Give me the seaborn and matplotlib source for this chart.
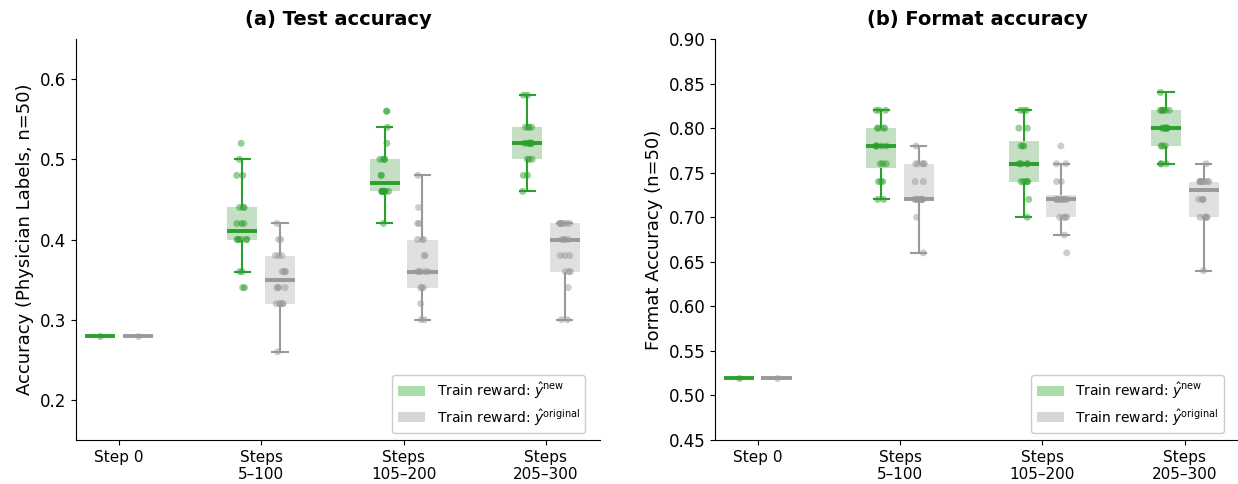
import numpy as np
import pandas as pd
import matplotlib
matplotlib.use("Agg")
import matplotlib.pyplot as plt
from matplotlib.patches import Patch
import seaborn as sns

steps = ["Step 0", "Steps\n5–100", "Steps\n105–200", "Steps\n205–300"]
rewards = ["new", "original"]

# (a) test accuracy per checkpoint, one list per step range
test_new = [
    [0.28],
    [0.34, 0.34, 0.36, 0.36, 0.40, 0.40, 0.40, 0.40, 0.40, 0.40,
     0.42, 0.42, 0.42, 0.44, 0.44, 0.44, 0.48, 0.48, 0.50, 0.52],
    [0.42, 0.46, 0.46, 0.46, 0.46, 0.46, 0.46, 0.46, 0.46, 0.46,
     0.48, 0.48, 0.50, 0.50, 0.50, 0.50, 0.52, 0.54, 0.56, 0.56],
    [0.46, 0.48, 0.48, 0.50, 0.50, 0.50, 0.52, 0.52, 0.52, 0.52,
     0.52, 0.52, 0.52, 0.52, 0.54, 0.54, 0.54, 0.54, 0.58, 0.58],
]
test_orig = [
    [0.28],
    [0.26, 0.32, 0.32, 0.32, 0.32, 0.32, 0.34, 0.34, 0.34, 0.34,
     0.36, 0.36, 0.36, 0.36, 0.38, 0.38, 0.38, 0.40, 0.40, 0.42],
    [0.30, 0.30, 0.32, 0.34, 0.34, 0.34, 0.36, 0.36, 0.36, 0.36,
     0.36, 0.38, 0.38, 0.40, 0.40, 0.40, 0.42, 0.42, 0.44, 0.48],
    [0.30, 0.30, 0.34, 0.36, 0.36, 0.36, 0.38, 0.38, 0.38, 0.40,
     0.40, 0.40, 0.40, 0.42, 0.42, 0.42, 0.42, 0.42, 0.42, 0.42],
]

# (b) format accuracy
fmt_new = [
    [0.52],
    [0.72, 0.72, 0.74, 0.74, 0.74, 0.76, 0.76, 0.76, 0.78, 0.78,
     0.78, 0.78, 0.78, 0.80, 0.80, 0.80, 0.80, 0.82, 0.82, 0.82],
    [0.70, 0.72, 0.74, 0.74, 0.74, 0.74, 0.74, 0.76, 0.76, 0.76,
     0.76, 0.76, 0.78, 0.78, 0.78, 0.80, 0.80, 0.82, 0.82, 0.82],
    [0.76, 0.76, 0.76, 0.78, 0.78, 0.78, 0.80, 0.80, 0.80, 0.80,
     0.80, 0.80, 0.80, 0.82, 0.82, 0.82, 0.82, 0.82, 0.82, 0.84],
]
fmt_orig = [
    [0.52],
    [0.66, 0.70, 0.72, 0.72, 0.72, 0.72, 0.72, 0.72, 0.72, 0.72,
     0.72, 0.72, 0.74, 0.74, 0.76, 0.76, 0.76, 0.76, 0.76, 0.78],
    [0.66, 0.68, 0.70, 0.70, 0.70, 0.70, 0.72, 0.72, 0.72, 0.72,
     0.72, 0.72, 0.72, 0.72, 0.72, 0.74, 0.74, 0.76, 0.76, 0.78],
    [0.64, 0.70, 0.70, 0.70, 0.70, 0.70, 0.72, 0.72, 0.72, 0.72,
     0.74, 0.74, 0.74, 0.74, 0.74, 0.74, 0.74, 0.74, 0.74, 0.76],
]

line_colors = {"new": "#2ca02c", "original": "#999999"}
fill_colors = {"new": "#c0e3c0", "original": "#e0e0e0"}
point_colors = {"new": "#2ca02c", "original": "#9a9a9a"}
legend_colors = {"new": "#a8dca8", "original": "#d6d6d6"}


def make_df(new_vals, orig_vals):
    rows = []
    for reward, vals in zip(rewards, [new_vals, orig_vals]):
        for step, v in zip(steps, vals):
            for x in v:
                rows.append({"step": step, "reward": reward, "value": x})
    return pd.DataFrame(rows)


def draw_panel(ax, df):
    sns.boxplot(data=df, x="step", y="value", hue="reward",
                order=steps, hue_order=rewards, palette=fill_colors,
                linecolor="#999999", width=0.53, gap=0.2,
                showfliers=False, legend=False, ax=ax,
                boxprops={"edgecolor": "none"},
                whiskerprops={"linewidth": 1.5},
                capprops={"linewidth": 1.5},
                medianprops={"linewidth": 2.8})
    # green lines for the boxes on the left of each pair
    for ln in ax.lines:
        xs = np.asarray(ln.get_xdata(), dtype=float)
        if len(xs) == 0:
            continue
        xm = xs.mean()
        if xm - np.round(xm) < 0:
            ln.set_color(line_colors["new"])
    sns.stripplot(data=df, x="step", y="value", hue="reward",
                  order=steps, hue_order=rewards, palette=point_colors,
                  dodge=True, jitter=0.12, size=5, alpha=0.5,
                  legend=False, ax=ax)
    # pull the dodged points in to sit on the narrower boxes
    for coll in ax.collections:
        off = coll.get_offsets()
        if len(off) == 0:
            continue
        c = np.round(off[:, 0].mean())
        off[:, 0] = c + (off[:, 0] - c) * 0.667
        coll.set_offsets(off)
    ax.set_xlim(-0.3, 3.38)
    ax.set_xlabel("")
    sns.despine(ax=ax)
    ax.tick_params(axis="y", labelsize=12)
    ax.tick_params(axis="x", labelsize=11)
    handles = [
        Patch(facecolor=legend_colors["new"], label=r"Train reward: $\hat{y}^{\mathrm{new}}$"),
        Patch(facecolor=legend_colors["original"], label=r"Train reward: $\hat{y}^{\mathrm{original}}$"),
    ]
    ax.legend(handles=handles, loc="lower right", bbox_to_anchor=(0.985, 0.0),
              fontsize=10, framealpha=1, labelspacing=0.4)


np.random.seed(3)
plt.rcParams["font.family"] = ["DejaVu Sans"]

fig = plt.figure(figsize=(12.38, 4.84), dpi=100)
ax1 = fig.add_axes([0.0614, 0.0909, 0.4233, 0.8285])
ax2 = fig.add_axes([0.5775, 0.0909, 0.4233, 0.8285])

draw_panel(ax1, make_df(test_new, test_orig))
ax1.set_ylim(0.15, 0.65)
ax1.set_yticks([0.2, 0.3, 0.4, 0.5, 0.6])
ax1.set_ylabel("Accuracy (Physician Labels, n=50)", fontsize=13)
ax1.set_title("(a) Test accuracy", fontsize=14, fontweight="bold", pad=10)

draw_panel(ax2, make_df(fmt_new, fmt_orig))
ax2.set_ylim(0.45, 0.90)
ax2.set_yticks(np.arange(0.45, 0.901, 0.05))
ax2.set_yticklabels([f"{t:.2f}" for t in np.arange(0.45, 0.901, 0.05)])
ax2.set_ylabel("Format Accuracy (n=50)", fontsize=13)
ax2.set_title("(b) Format accuracy", fontsize=14, fontweight="bold", pad=10)

fig.savefig("out.png", dpi=100)
